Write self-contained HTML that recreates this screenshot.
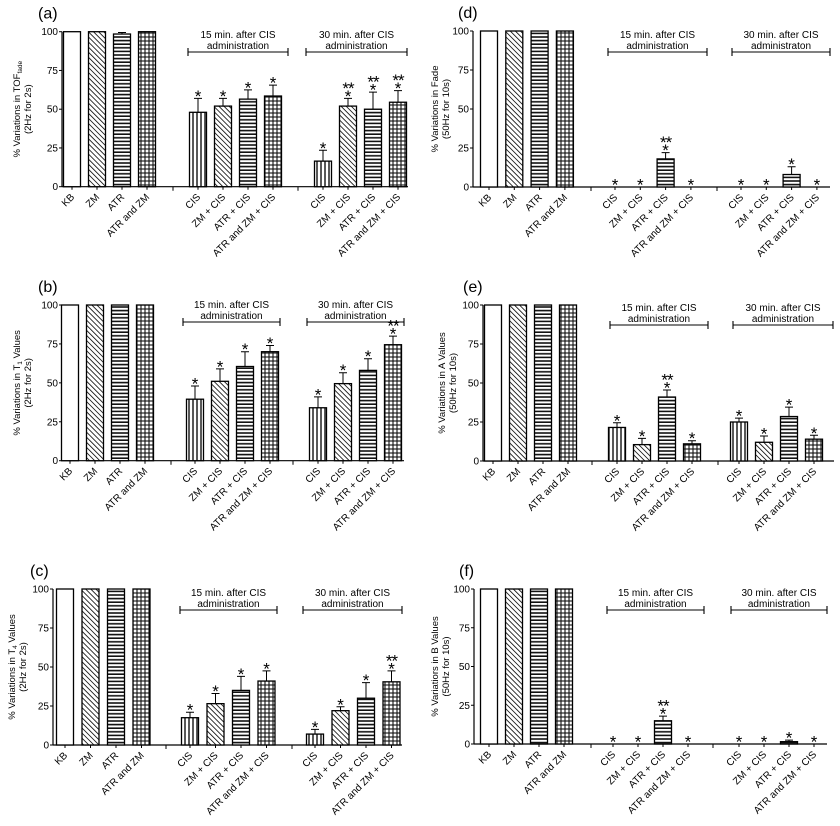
<!DOCTYPE html>
<html><head><meta charset="utf-8">
<style>
html,body{margin:0;padding:0;background:#fff;}
svg{display:block;font-family:"Liberation Sans",sans-serif;}
</style></head>
<body>
<svg id="fig" width="840" height="826" viewBox="0 0 840 826" xmlns="http://www.w3.org/2000/svg">
<defs>
<pattern id="p-diag" patternUnits="userSpaceOnUse" width="3.6" height="3.6" patternTransform="rotate(-45)"><rect width="3.6" height="3.6" fill="#fff"/><line x1="0" y1="0" x2="0" y2="3.6" stroke="#111" stroke-width="1.7"/></pattern>
<pattern id="p-horiz" patternUnits="userSpaceOnUse" width="4" height="3.6"><rect width="4" height="3.6" fill="#fff"/><line x1="0" y1="1" x2="4" y2="1" stroke="#111" stroke-width="1.6"/></pattern>
<pattern id="p-vert" patternUnits="userSpaceOnUse" width="4" height="4"><rect width="4" height="4" fill="#fff"/><line x1="1" y1="0" x2="1" y2="4" stroke="#111" stroke-width="1.4"/></pattern>
<pattern id="p-grid" patternUnits="userSpaceOnUse" width="4" height="4"><rect width="4" height="4" fill="#fff"/><line x1="1" y1="0" x2="1" y2="4" stroke="#111" stroke-width="1.1"/><line x1="0" y1="1" x2="4" y2="1" stroke="#111" stroke-width="1.1"/></pattern>
</defs>
</svg>
<script>
const categories=["KB","ZM","ATR","ATR and ZM","CIS","ZM + CIS","ATR + CIS","ATR and ZM + CIS","CIS","ZM + CIS","ATR + CIS","ATR and ZM + CIS"];
const fills=["#fff","url(#p-diag)","url(#p-horiz)","url(#p-grid)","url(#p-vert)","url(#p-diag)","url(#p-horiz)","url(#p-grid)","url(#p-vert)","url(#p-diag)","url(#p-horiz)","url(#p-grid)"];
const yTicks=[0,25,50,75,100];

const aValues=[100,100,98.5,100,48,52,56.5,58.5,16.5,52,50,54.5];
const aErrors=[0,0,1,0,9,5,6,7,7,5,11,7.5];
const aStars=["","","","","*","*","*","*","*","**","**","**"];

const bValues=[100,100,100,100,39.5,51,60.5,70,34,49.5,58,74.5];
const bErrors=[0,0,0,0,8.5,8,9.5,4,7,7,7.5,5.5];
const bStars=["","","","","*","*","*","*","*","*","*","**"];

const cValues=[100,100,100,100,17.5,26.5,35,41,7,22,30,40.5];
const cErrors=[0,0,0,0,3.5,6.5,9,6.5,3,2.5,10,7];
const cStars=["","","","","*","*","*","*","*","*","*","**"];

const dValues=[100,100,100,100,0,0,18,0,0,0,8,0];
const dErrors=[0,0,0,0,0,0,4,0,0,0,5,0];
const dStars=["","","","","*","*","**","*","*","*","*","*"];

const eValues=[100,100,100,100,21.5,10.5,41,11,25,12,28.5,14];
const eErrors=[0,0,0,0,3,4,4.5,2,2.5,4,6,2.5];
const eStars=["","","","","*","*","**","*","*","*","*","*"];

const fValues=[100,100,100,100,0,0,15,0,0,0,1.5,0];
const fErrors=[0,0,0,0,0,0,3,0,0,0,1,0];
const fStars=["","","","","*","*","**","*","*","*","*","*"];

const NS="http://www.w3.org/2000/svg";
const svg=document.getElementById('fig');
function mk(tag,attrs,parent,text){const e=document.createElementNS(NS,tag);for(const k in attrs)e.setAttribute(k,attrs[k]);if(text!==undefined)e.textContent=text;parent.appendChild(e);return e;}

function panel(cfg,values,errors,stars){
  const g=mk('g',{},svg);
  
  
  const y=v=>cfg.yB-(cfg.yB-cfg.yT)*v/100;
  const cx=i=>cfg.g[Math.floor(i/4)]+cfg.step*(i%4);
  const lab=mk('text',{x:cfg.lx,y:cfg.yT-13,'font-size':16},g,'('+cfg.id+')');
  
  
  const ya=mk('line',{x1:cfg.ax,y1:cfg.yT,x2:cfg.ax,y2:cfg.yB,stroke:'#000','stroke-width':1.2},g);
  
  
  yTicks.forEach(t=>{
    mk('line',{x1:cfg.ax-3,y1:y(t),x2:cfg.ax,y2:y(t),stroke:'#000','stroke-width':1},g);
    const tl=mk('text',{x:cfg.ax-4,y:y(t)+3.5,'font-size':10,'text-anchor':'end'},g,String(t));
    
    
  });
  const mid=(cfg.yT+cfg.yB)/2;
  const yt=mk('text',{transform:`translate(${cfg.tx},${mid}) rotate(-90)`,'font-size':9.5,'text-anchor':'middle'},g);
  
  
  mk('tspan',{},yt,cfg.t1);
  if(cfg.sub){mk('tspan',{'font-size':6.5,dy:2},yt,cfg.sub);mk('tspan',{dy:-2},yt,cfg.t1b||'');}
  const yt2=mk('text',{transform:`translate(${cfg.tx+11},${mid}) rotate(-90)`,'font-size':9.5,'text-anchor':'middle'},g,cfg.t2);
  
  
  const xa=mk('line',{x1:cfg.ax,y1:cfg.yB,x2:cfg.end,y2:cfg.yB,stroke:'#000','stroke-width':1.2},g);
  
  
  cfg.breaks.forEach(b=>mk('line',{x1:b,y1:cfg.yB,x2:b,y2:cfg.yB+4,stroke:'#000','stroke-width':1},g));
  values.forEach((v,i)=>{
    const c=cx(i),top=y(v);
    mk('line',{x1:c,y1:cfg.yB,x2:c,y2:cfg.yB+3,stroke:'#000','stroke-width':1},g);
    if(v>0){
      const r=mk('rect',{x:c-cfg.bw/2,y:top,width:cfg.bw,height:cfg.yB-top,fill:fills[i],stroke:'#000','stroke-width':1.3},g);
      
      
    }
    let et=top;
    if(errors[i]>0){
      et=y(v+errors[i]);
      const eb=mk('path',{d:`M${c},${top}V${et}M${c-4},${et}H${c+4}`,stroke:'#000','stroke-width':1,fill:'none'},g);
      
      
    }
    if(stars[i]){
      const s=mk('text',{x:c,y:et+3.5,'font-size':17,'text-anchor':'middle'},g,'*');
      
      
      if(stars[i]==='**'){
        const s2=mk('text',{x:c,y:et-4.5,'font-size':17,'text-anchor':'middle','letter-spacing':'-1'},g,'**');
        
        
      }
    }
    const xl=mk('text',{transform:`translate(${c+3},${cfg.yB+11}) rotate(-45)`,'font-size':10,'text-anchor':'end'},g,categories[i]);
    
    
  });
  cfg.br.forEach((b,k)=>{
    const bk=mk('path',{d:`M${b[0]},${cfg.brY-4}V${cfg.brY+4}M${b[0]},${cfg.brY}H${b[1]}M${b[1]},${cfg.brY-4}V${cfg.brY+4}`,stroke:'#000','stroke-width':1.1,fill:'none'},g);
    
    
    const m=(b[0]+b[1])/2;
    const l1=mk('text',{x:m,y:cfg.brY-14,'font-size':10,'text-anchor':'middle'},g,(k===0?'15':'30')+' min. after CIS');
    
    
    const l2=mk('text',{x:m,y:cfg.brY-3,'font-size':10,'text-anchor':'middle'},g,(cfg.id==='d'&&k===1)?'administraton':'administration');
    
    
  });
}

panel({id:'a',ax:62,yT:31.7,yB:186.7,g:[72,198,323],step:25,bw:17,breaks:[173,298],end:408,br:[[188,288],[306,407]],brY:52,lx:38,tx:20,t1:'% Variations in TOF',sub:'fade',t2:'(2Hz for 2s)'},aValues,aErrors,aStars);
panel({id:'b',ax:62,yT:305,yB:460.7,g:[70,195,318],step:25,bw:17,breaks:[171,293],end:404,br:[[183,280],[307,404]],brY:322,lx:38,tx:20,t1:'% Variations in T',sub:'1',t1b:' Values',t2:'(2Hz for 2s)'},bValues,bErrors,bStars);
panel({id:'c',ax:53,yT:589,yB:745,g:[65,190,315],step:25.5,bw:17,breaks:[166,292],end:402,br:[[180,277],[303,402]],brY:610,lx:30,tx:15,t1:'% Variations in T',sub:'4',t1b:' Values',t2:'(2Hz for 2s)'},cValues,cErrors,cStars);
panel({id:'d',ax:473,yT:31,yB:187,g:[489,615,741],step:25.3,bw:17,breaks:[591,717],end:830,br:[[608,707],[732,830]],brY:52,lx:458,tx:438,t1:'% Variations in Fade',t2:'(50Hz for 10s)'},dValues,dErrors,dStars);
panel({id:'e',ax:483,yT:305,yB:461,g:[493,617,739],step:25,bw:17,breaks:[592,718],end:834,br:[[610,708],[733,833]],brY:325,lx:463,tx:445,t1:'% Variations in A  Values',t2:'(50Hz for 10s)'},eValues,eErrors,eStars);
panel({id:'f',ax:474,yT:589,yB:744,g:[489,613,739],step:25,bw:17,breaks:[591,713],end:827,br:[[607,704],[731,827]],brY:610,lx:459,tx:438,t1:'% Variatiors in B Values',t2:'(50Hz for 10s)'},fValues,fErrors,fStars);
</script>
</body></html>
